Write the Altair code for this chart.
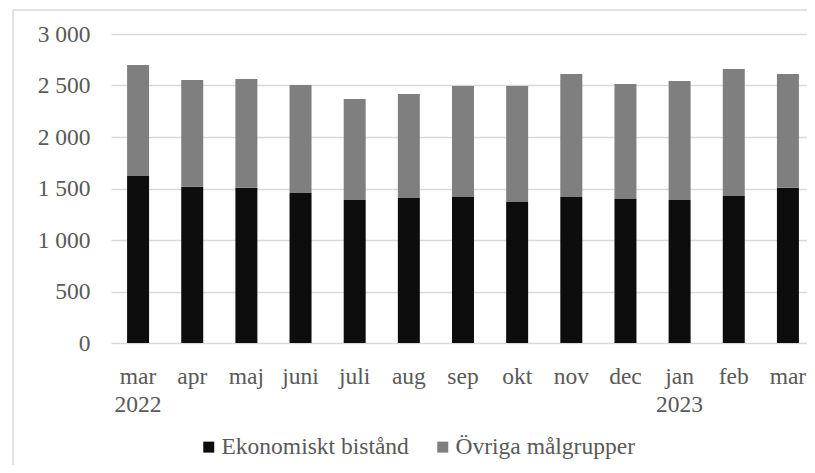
import altair as alt
import pandas as pd

months = ["mar\n2022", "apr", "maj", "juni", "juli", "aug", "sep", "okt",
          "nov", "dec", "jan\n2023", "feb", "mar"]
ekonomiskt = [1621, 1518, 1508, 1456, 1388, 1408, 1417, 1369, 1417, 1398, 1388, 1427, 1508]
ovriga = [1078, 1035, 1055, 1049, 981, 1009, 1078, 1126, 1195, 1117, 1156, 1233, 1104]
series = ["Ekonomiskt bistånd", "Övriga målgrupper"]
colors = ["#0d0d0d", "#7f7f7f"]
y_ticks = [0, 500, 1000, 1500, 2000, 2500, 3000]

rows = []
for i, m in enumerate(months):
    rows.append({"month": m, "series": series[0], "value": ekonomiskt[i], "ord": 0})
    rows.append({"month": m, "series": series[1], "value": ovriga[i], "ord": 1})
df = pd.DataFrame(rows)

W, H = 696, 309
XR = 704
PAD = {"left": 103, "top": 26, "right": 0, "bottom": 122}
FONT = "Liberation Serif"
TXT = "#595959"
FS = 23.5

bars = alt.Chart(df).mark_bar().encode(
    x=alt.X("month:N", sort=months,
            scale=alt.Scale(paddingInner=0.594, paddingOuter=0.297, range=[0, XR]),
            axis=alt.Axis(title=None, domain=False, ticks=False, grid=False,
                          labelAngle=0, labelFont=FONT, labelFontSize=FS,
                          labelColor=TXT, labelPadding=21, labelLineHeight=28,
                          labelBaseline="top",
                          labelExpr="split(datum.label, '\\n')")),
    y=alt.Y("value:Q", stack="zero",
            scale=alt.Scale(domain=[0, 3000], nice=False),
            axis=alt.Axis(title=None, domain=False, ticks=False, values=y_ticks,
                          gridColor="#d9d9d9", gridWidth=1.5,
                          labelFont=FONT, labelFontSize=FS, labelColor=TXT,
                          labelPadding=21,
                          labelExpr="replace(format(datum.value, ','), ',', ' ')")),
    color=alt.Color("series:N", sort=series,
                    scale=alt.Scale(domain=series, range=colors),
                    legend=alt.Legend(title=None, orient="none", legendX=86, legendY=401,
                                      direction="horizontal", symbolType="square",
                                      symbolSize=121, symbolStrokeWidth=0,
                                      labelFont=FONT, labelFontSize=FS, labelColor=TXT,
                                      labelOffset=1, columnPadding=22, labelLimit=0,
                                      padding=0)),
    order=alt.Order("ord:Q", sort="ascending"),
)

frame_df = pd.DataFrame({"a": [0]})
frame_left = alt.Chart(frame_df).mark_rule(color="#d9d9d9", strokeWidth=1.5).encode(
    x=alt.value(-98), y=alt.value(-24), y2=alt.value(H + PAD["bottom"])
)
frame_top = alt.Chart(frame_df).mark_rule(color="#d9d9d9", strokeWidth=1.5).encode(
    x=alt.value(-98), x2=alt.value(W), y=alt.value(-24)
)

chart = alt.layer(bars, frame_left, frame_top).properties(
    width=W, height=H,
    autosize=alt.AutoSizeParams(type="none"),
    padding=PAD,
).configure(font=FONT).configure_view(stroke=None)

chart.save("out.html", embed_options={"renderer": "svg", "actions": False})
